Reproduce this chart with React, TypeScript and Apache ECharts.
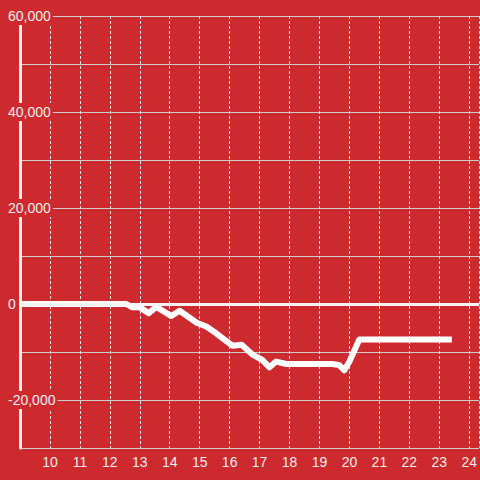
import React, { useEffect, useRef } from "react";
import * as echarts from "echarts";

const BG = "#cc2a2f";

// hours of day
const times = [9, 12.55, 12.75, 13.0, 13.3, 13.55, 14.05, 14.33, 14.9, 15.22, 15.55, 15.9, 16.1, 16.4, 16.78, 17.1, 17.33, 17.55, 17.9, 19.43, 19.65, 19.83, 20.0, 20.33, 23.42];
const values = [0, 0, -700, -700, -1900, -600, -2500, -1400, -3900, -4700, -6100, -7800, -8700, -8500, -10600, -11700, -13200, -12000, -12500, -12500, -12700, -13800, -12000, -7400, -7400];

const xMin = 9;
const xMax = 9 + 460 / 30;
const yMin = -30000;
const yMax = 60000;
const yStep = 10000;

export default function App() {
  const ref = useRef<HTMLDivElement>(null);
  useEffect(() => {
    document.body.style.margin = "0";
    const chart = echarts.init(ref.current!, null, { renderer: "svg" });
    const font = "Liberation Sans, Arial, sans-serif";
    chart.setOption({
      animation: false,
      backgroundColor: BG,
      grid: { left: 20, right: 0, top: 16, bottom: 32, containLabel: false },
      xAxis: {
        type: "value",
        min: xMin,
        max: xMax,
        interval: 1,
        axisLine: { show: false },
        axisTick: { show: false },
        axisLabel: {
          color: "#eee",
          fontSize: 14,
          fontFamily: font,
          margin: 7,
          showMinLabel: false,
          showMaxLabel: false,
          formatter: (v: number) => {
            const r = Math.round(v);
            return Math.abs(v - r) < 1e-6 && r >= 10 && r <= 24 ? String(r) : "";
          },
        },
        splitLine: { show: true, lineStyle: { color: "#e6e6e6", width: 1, type: [3, 2] } },
      },
      yAxis: {
        type: "value",
        min: yMin,
        max: yMax,
        interval: yStep,
        axisLine: { show: true, lineStyle: { color: "#f0f0f0", width: 3 } },
        axisTick: { show: false },
        axisLabel: {
          color: "#eee",
          fontSize: 14,
          fontFamily: font,
          align: "left",
          margin: 14,
          backgroundColor: BG,
          padding: [2, 2],
          formatter: (v: number) =>
            v % 20000 === 0 ? v.toLocaleString("en-US") : "",
        },
        splitLine: { show: true, lineStyle: { color: "#cccccc", width: 1 } },
      },
      series: [
        {
          type: "line",
          data: times.map((t, i) => [t, values[i]]),
          symbol: "none",
          smooth: false,
          lineStyle: { color: "#fff", width: 6, join: "round", cap: "butt" },
          markLine: {
            silent: true,
            symbol: "none",
            label: { show: false },
            lineStyle: { color: "#f5f5f5", width: 3, type: "solid" },
            data: [{ yAxis: 0 }],
          },
        },
      ],
    });
    return () => chart.dispose();
  }, []);
  return <div ref={ref} style={{ width: 480, height: 480 }} />;
}
